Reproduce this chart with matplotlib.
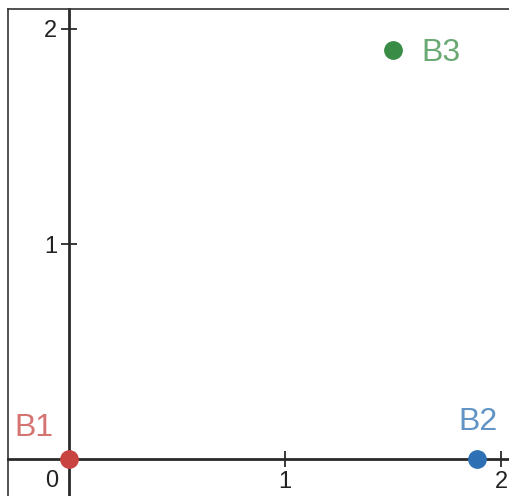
import matplotlib
matplotlib.use("Agg")
import matplotlib.pyplot as plt
from matplotlib.lines import Line2D

plt.rcParams["font.family"] = ["Liberation Sans", "DejaVu Sans"]

# points
names = ["B1", "B2", "B3"]
xs = [0.0, 1.89, 1.5]
ys = [0.0, 0.0, 1.9]
colors = ["#c74440", "#2d70b3", "#388c46"]
label_offsets = [(-35, 31), (1, 37), (48, -3)]  # pixels

xticks = [1, 2]
yticks = [1, 2]

fig = plt.figure(figsize=(5.09, 4.96), dpi=100)
ax = fig.add_axes([8 / 509, 0, 501 / 509, 487 / 496])

ax.set_xlim(-0.2824, 2.037)
ax.set_ylim(-0.172, 2.093)

axis_col = "#2a2a2a"
for side in ["left", "bottom"]:
    ax.spines[side].set_position(("data", 0))
    ax.spines[side].set_color(axis_col)
    ax.spines[side].set_linewidth(2.0)
ax.spines["right"].set_visible(False)
ax.spines["top"].set_color("#333333")
ax.spines["top"].set_linewidth(1.2)

# outer left border
ax.add_line(Line2D([0, 0], [0, 1], transform=ax.transAxes, color="#333333",
                   lw=1.2, clip_on=False))

ax.set_xticks(xticks)
ax.set_xticklabels([str(t) for t in xticks])
ax.set_yticks(yticks)
ax.set_yticklabels([str(t) for t in yticks])
ax.tick_params(axis="both", direction="inout", length=11, width=1.3,
               color=axis_col, labelsize=17, labelcolor="#222222", pad=3)

ax.annotate("0", (0, 0), xytext=(-17, -22), textcoords="offset pixels",
            ha="center", va="center", fontsize=17, color="#222222")

for name, x, y, c, (dx, dy) in zip(names, xs, ys, colors, label_offsets):
    ax.plot(x, y, "o", color=c, markersize=12.5, zorder=5, clip_on=False)
    ax.annotate(name, (x, y), xytext=(dx, dy), textcoords="offset pixels",
                ha="center", va="center", fontsize=23, color=c, alpha=0.75)

fig.savefig("out.png", dpi=100)
